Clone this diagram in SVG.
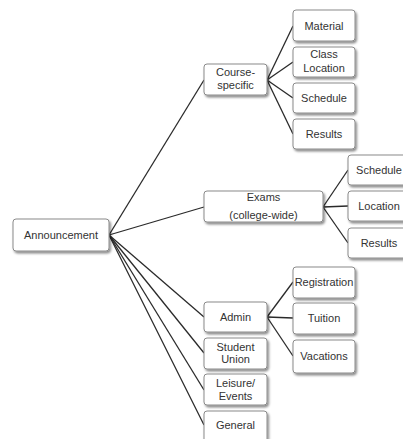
<svg xmlns="http://www.w3.org/2000/svg" width="403" height="439" viewBox="0 0 403 439">
<defs>
<filter id="sh" x="-20%" y="-20%" width="150%" height="160%">
<feDropShadow dx="1.5" dy="2" stdDeviation="1.2" flood-color="#000" flood-opacity="0.45"/>
</filter>
</defs>
<style>
.b{fill:#fff;stroke:#8a8a8a;stroke-width:1;filter:url(#sh)}
.t{font-family:"Liberation Sans",Arial,sans-serif;font-size:11px;fill:#333;text-anchor:middle}
.c{stroke:#2a2a2a;stroke-width:1.3;fill:none}
</style>
<rect width="403" height="439" fill="#fff"/>
<g id="connectors" class="c">
<line x1="109" y1="235" x2="204" y2="80"/>
<line x1="109" y1="235" x2="204" y2="207"/>
<line x1="109" y1="235" x2="204" y2="317"/>
<line x1="109" y1="235" x2="204" y2="353"/>
<line x1="109" y1="235" x2="204" y2="390"/>
<line x1="109" y1="235" x2="204" y2="425"/>
<line x1="267" y1="80" x2="293" y2="26"/>
<line x1="267" y1="80" x2="293" y2="62"/>
<line x1="267" y1="80" x2="293" y2="98"/>
<line x1="267" y1="80" x2="293" y2="134"/>
<line x1="323" y1="207" x2="348" y2="170"/>
<line x1="323" y1="207" x2="348" y2="206"/>
<line x1="323" y1="207" x2="348" y2="243"/>
<line x1="267" y1="317" x2="293" y2="282"/>
<line x1="267" y1="317" x2="293" y2="318"/>
<line x1="267" y1="317" x2="293" y2="356"/>
</g>
<g id="announcement"><rect class="b" x="13" y="219" width="96" height="32" rx="3"/><text class="t" x="61" y="239">Announcement</text></g>
<g id="course-specific"><rect class="b" x="204" y="64" width="63" height="31" rx="3"/><text class="t" x="235.5" y="76">Course-</text><text class="t" x="235.5" y="89">specific</text></g>
<g id="material"><rect class="b" x="293" y="10" width="62" height="31" rx="3"/><text class="t" x="324" y="29.5">Material</text></g>
<g id="class-location"><rect class="b" x="293" y="47" width="62" height="30" rx="3"/><text class="t" x="324" y="58">Class</text><text class="t" x="324" y="72">Location</text></g>
<g id="course-schedule"><rect class="b" x="293" y="83" width="62" height="30" rx="3"/><text class="t" x="324" y="101.5">Schedule</text></g>
<g id="course-results"><rect class="b" x="293" y="119" width="62" height="30" rx="3"/><text class="t" x="324" y="137.5">Results</text></g>
<g id="exams"><rect class="b" x="204" y="191" width="119" height="31" rx="3"/><text class="t" x="263.5" y="201">Exams</text><text class="t" x="263.5" y="219">(college-wide)</text></g>
<g id="exam-schedule"><rect class="b" x="348" y="155" width="62" height="30" rx="3"/><text class="t" x="379" y="173.5">Schedule</text></g>
<g id="exam-location"><rect class="b" x="348" y="191" width="62" height="30" rx="3"/><text class="t" x="379" y="209.5">Location</text></g>
<g id="exam-results"><rect class="b" x="348" y="228" width="62" height="30" rx="3"/><text class="t" x="379" y="246.5">Results</text></g>
<g id="admin"><rect class="b" x="204" y="302" width="63" height="30" rx="3"/><text class="t" x="235.5" y="320.5">Admin</text></g>
<g id="registration"><rect class="b" x="293" y="267" width="62" height="31" rx="3"/><text class="t" x="324" y="286">Registration</text></g>
<g id="tuition"><rect class="b" x="293" y="303" width="62" height="31" rx="3"/><text class="t" x="324" y="322">Tuition</text></g>
<g id="vacations"><rect class="b" x="293" y="340" width="62" height="33" rx="3"/><text class="t" x="324" y="360">Vacations</text></g>
<g id="student-union"><rect class="b" x="204" y="338" width="63" height="31" rx="3"/><text class="t" x="235.5" y="350.5">Student</text><text class="t" x="235.5" y="363">Union</text></g>
<g id="leisure-events"><rect class="b" x="204" y="374" width="63" height="31" rx="3"/><text class="t" x="235.5" y="386.5">Leisure/</text><text class="t" x="235.5" y="399.5">Events</text></g>
<g id="general"><rect class="b" x="204" y="411" width="63" height="31" rx="3"/><text class="t" x="235.5" y="429">General</text></g>
</svg>
